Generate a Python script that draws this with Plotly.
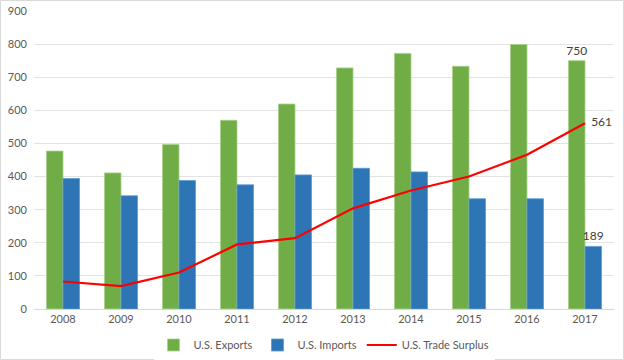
import plotly.graph_objects as go

years = ["2008", "2009", "2010", "2011", "2012", "2013", "2014", "2015", "2016", "2017"]
exports = [477, 411, 497, 570, 619, 728, 772, 733, 799, 750]
imports = [394, 342, 388, 375, 405, 425, 414, 333, 333, 189]
surplus = [83, 69, 110, 195, 214, 304, 358, 400, 466, 561]

def last_label(vals, pad=""):
    return [""] * (len(vals) - 1) + [pad + str(vals[-1])]

font_family = "Lato, 'Open Sans', sans-serif"
txt_color = "#404040"

fig = go.Figure()
fig.add_trace(go.Bar(
    x=years, y=exports, name="U.S. Exports",
    marker=dict(color="#70AD47", line=dict(color="#A9D18E", width=0.8)),
    text=last_label(exports), textposition="outside", cliponaxis=False,
    constraintext="none",
    textfont=dict(size=12, color=txt_color, family=font_family),
))
fig.add_trace(go.Bar(
    x=years, y=imports, name="U.S. Imports",
    marker=dict(color="#2E75B6", line=dict(color="#5B9BD5", width=0.8)),
    text=last_label(imports), textposition="outside", cliponaxis=False,
    constraintext="none",
    textfont=dict(size=12, color=txt_color, family=font_family),
))
fig.add_trace(go.Scatter(
    x=years, y=surplus, name="U.S. Trade Surplus",
    mode="lines+text", line=dict(color="#FF0000", width=2.2),
    text=last_label(surplus, "  "), textposition="middle right", cliponaxis=False,
    textfont=dict(size=12, color=txt_color, family=font_family),
))

W, H = 624, 360
ml, mr, mt, mb = 34, 10, 11, 51
pw, ph = W - ml - mr, H - mt - mb

fig.update_layout(
    template="none",
    width=W, height=H,
    margin=dict(l=ml, r=mr, t=mt, b=mb, autoexpand=False),
    paper_bgcolor="white", plot_bgcolor="white",
    barmode="group", bargap=0.43, bargroupgap=0,
    font=dict(family=font_family, size=11, color="#595959"),
    showlegend=True,
    legend=dict(orientation="h", x=0.5, xanchor="center", yref="container",
                y=15 / H, yanchor="middle", itemwidth=30,
                font=dict(size=11, color="#595959"), traceorder="normal"),
    xaxis=dict(type="category", showgrid=False, showline=True, linecolor="#D9D9D9",
               linewidth=1, zeroline=False, ticks="", automargin=False, mirror=False,
               tickfont=dict(size=11, color="#595959")),
    yaxis=dict(range=[0, 900], dtick=100, showgrid=True, gridcolor="#E3E3E3", gridwidth=1,
               zeroline=False, showline=False, ticks="", automargin=False,
               ticklabelstandoff=6,
               tickfont=dict(size=11, color="#595959")),
)

# outer chart border as four separate lines (paper coordinates)
x_left, x_right = (-ml + 0.5) / pw, (pw + mr - 0.5) / pw
y_bot, y_top = (-mb + 0.5) / ph, (ph + mt - 0.5) / ph
border = dict(color="#D9D9D9", width=1)
for (xa, ya, xb, yb) in [(x_left, y_top, x_right, y_top), (x_left, y_bot, x_right, y_bot),
                         (x_left, y_bot, x_left, y_top), (x_right, y_bot, x_right, y_top)]:
    fig.add_shape(type="line", xref="paper", yref="paper",
                  x0=xa, y0=ya, x1=xb, y1=yb, line=border, layer="above")

post = "document.body.style.margin='0';document.body.style.overflow='hidden';"
fig.write_html("out.html", config={"displayModeBar": False}, post_script=post)
